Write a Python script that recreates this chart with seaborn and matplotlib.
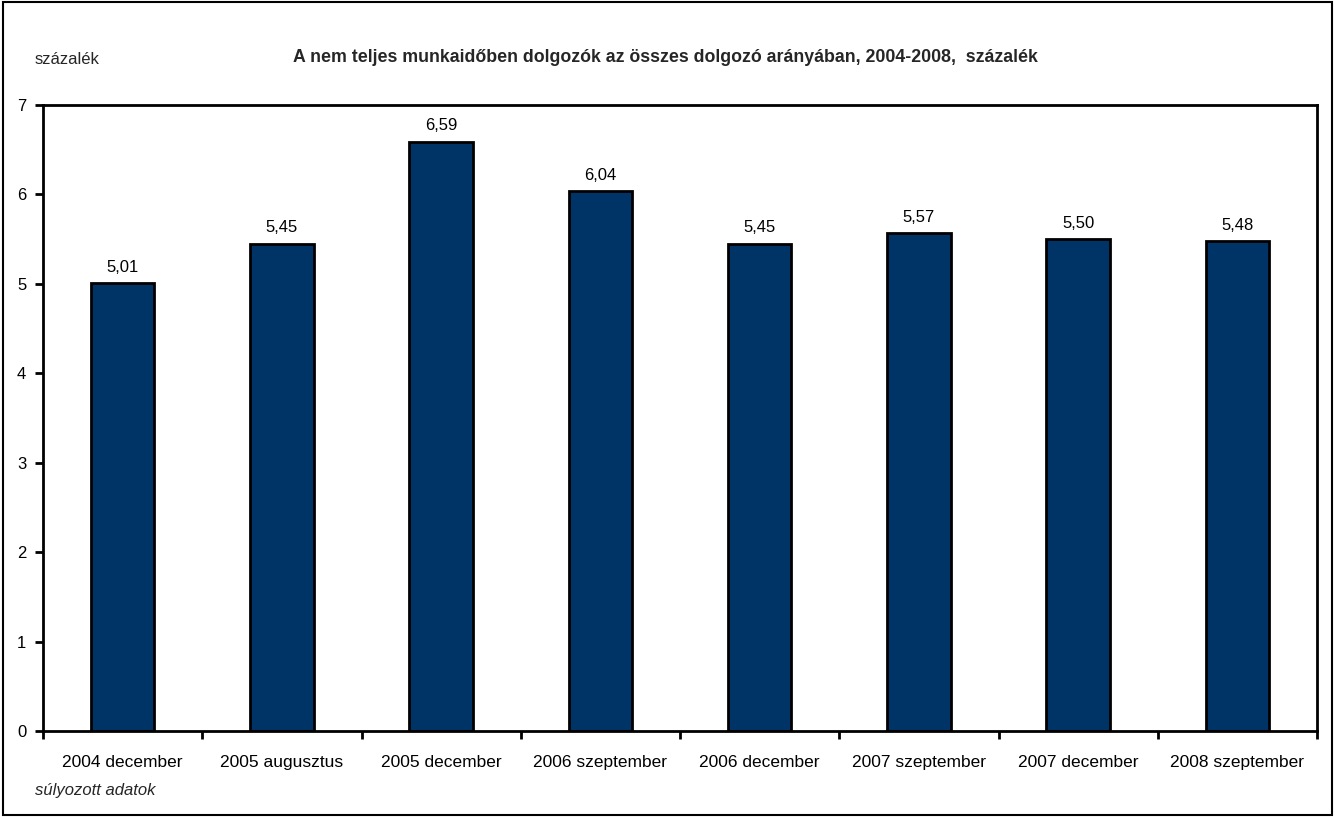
import numpy as np
import pandas as pd
import matplotlib
matplotlib.use("Agg")
import matplotlib.pyplot as plt
import seaborn as sns
from matplotlib.patches import Rectangle

categories = ["2004 december", "2005 augusztus", "2005 december", "2006 szeptember",
              "2006 december", "2007 szeptember", "2007 december", "2008 szeptember"]
values = [5.01, 5.45, 6.59, 6.04, 5.45, 5.57, 5.50, 5.48]
value_labels = ["5,01", "5,45", "6,59", "6,04", "5,45", "5,57", "5,50", "5,48"]
y_ticks = [0, 1, 2, 3, 4, 5, 6, 7]

title = "A nem teljes munkaidőben dolgozók az összes dolgozó arányában, 2004-2008,  százalék"
unit_label = "százalék"
note = "súlyozott adatok"

sns.set_theme(style="white")
plt.rcParams['font.family'] = ['Liberation Sans', 'DejaVu Sans']

fig = plt.figure(figsize=(13.35, 8.17), dpi=100)
ax = fig.add_axes([43/1335, 1-731/817, (1317-43)/1335, (731-105)/817])

df = pd.DataFrame({"cat": categories, "val": values})
sns.barplot(data=df, x="cat", y="val", color="#003366", width=0.4,
            edgecolor="black", linewidth=2, saturation=1, ax=ax)

ax.bar_label(ax.containers[0], labels=value_labels, padding=6, fontsize=12, color="black")

ax.set_xlim(-0.5, len(categories) - 0.5)
ax.set_ylim(0, 7)
ax.set_yticks(y_ticks)
ax.set_yticklabels([str(t) for t in y_ticks], fontsize=12)
ax.set_xlabel("")
ax.set_ylabel("")
ax.set_xticks(range(len(categories)))
ax.set_xticklabels(categories, fontsize=12.5)
ax.set_xticks(np.arange(-0.5, len(categories), 1), minor=True)
ax.tick_params(axis='x', which='major', length=0, pad=17, colors='black')
ax.tick_params(axis='x', which='minor', length=6, width=2, color='black', direction='out', bottom=True)
ax.tick_params(axis='y', which='major', length=6, width=2, color='black', direction='out', left=True, pad=6, colors='black')
for s in ax.spines.values():
    s.set_visible(True)
    s.set_color("black")
    s.set_linewidth(2)

fig.text(665/1335, 1-58/817, title, ha="center", va="center", fontsize=12.8, fontweight="bold")
fig.text(35/1335, 1-60/817, unit_label, ha="left", va="center", fontsize=12)
fig.text(35/1335, 1-790/817, note, ha="left", va="center", fontsize=12, style="italic")

fig.patches.append(Rectangle((3/1335, 2/817), 1-6/1335, 1-4/817, transform=fig.transFigure,
                             fill=False, edgecolor="black", linewidth=1.5))

fig.savefig("out.png", dpi=100, facecolor="white")
